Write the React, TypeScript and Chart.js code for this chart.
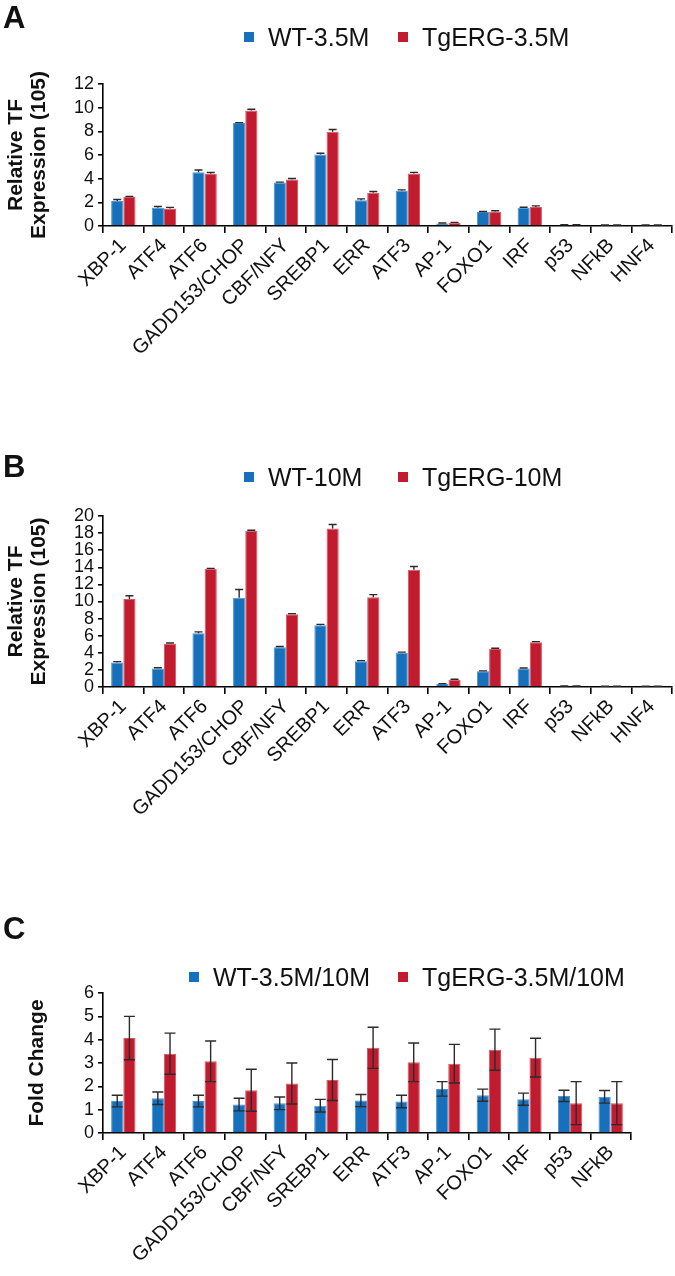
import React, { useEffect, useRef } from 'react';
import { Chart, registerables } from 'chart.js';

Chart.register(...registerables);

const FONT = '"Liberation Sans", Arial, Helvetica, sans-serif';
const NARROW = '"Liberation Sans Narrow", "Arial Narrow", "Liberation Sans", Arial, sans-serif';
const BLUE = '#1670bc';
const RED = '#c01b2e';

// transcription factors on the x axis
const factors = ['XBP-1', 'ATF4', 'ATF6', 'GADD153/CHOP', 'CBF/NFY', 'SREBP1', 'ERR', 'ATF3', 'AP-1', 'FOXO1', 'IRF', 'p53', 'NFkB', 'HNF4'];
const factorsC = ['XBP-1', 'ATF4', 'ATF6', 'GADD153/CHOP', 'CBF/NFY', 'SREBP1', 'ERR', 'ATF3', 'AP-1', 'FOXO1', 'IRF', 'p53', 'NFkB'];

// A: 3.5 months
const wt35 = [2.12, 1.55, 4.55, 8.7, 3.67, 6.05, 2.17, 2.97, 0.22, 1.18, 1.55, 0.1, 0.08, 0.08];
const wt35Err = [0.12, 0.1, 0.18, 0.04, 0.04, 0.1, 0.12, 0.08, 0.03, 0.04, 0.04, 0.01, 0.01, 0.01];
const tg35 = [2.45, 1.47, 4.42, 9.77, 3.92, 7.97, 2.8, 4.43, 0.28, 1.21, 1.6, 0.1, 0.08, 0.08];
const tg35Err = [0.05, 0.1, 0.1, 0.1, 0.1, 0.18, 0.12, 0.1, 0.03, 0.08, 0.1, 0.01, 0.01, 0.01];

// B: 10 months
const wt10 = [2.87, 2.17, 6.3, 10.45, 4.65, 7.22, 3.0, 4.0, 0.35, 1.83, 2.17, 0.1, 0.08, 0.08];
const wt10Err = [0.1, 0.08, 0.15, 0.95, 0.08, 0.1, 0.08, 0.08, 0.05, 0.06, 0.06, 0.01, 0.01, 0.01];
const tg10 = [10.28, 5.05, 13.82, 18.27, 8.5, 18.55, 10.5, 13.72, 0.85, 4.45, 5.23, 0.1, 0.08, 0.08];
const tg10Err = [0.4, 0.1, 0.06, 0.06, 0.08, 0.45, 0.3, 0.38, 0.05, 0.08, 0.08, 0.01, 0.01, 0.01];

// C: fold change 3.5M -> 10M
const wtFold = [1.37, 1.49, 1.37, 1.22, 1.27, 1.17, 1.39, 1.35, 1.89, 1.62, 1.45, 1.59, 1.55];
const wtFoldErr = [0.25, 0.27, 0.25, 0.27, 0.27, 0.27, 0.26, 0.27, 0.31, 0.26, 0.26, 0.24, 0.27];
const tgFold = [4.07, 3.4, 3.07, 1.83, 2.12, 2.27, 3.65, 3.03, 2.97, 3.57, 3.23, 1.28, 1.28];
const tgFoldErr = [0.93, 0.88, 0.87, 0.9, 0.88, 0.88, 0.88, 0.83, 0.83, 0.88, 0.83, 0.92, 0.92];

const errorBars = {
  id: 'errorBars',
  afterDatasetsDraw(chart: any, _args: any, opts: any) {
    const { ctx } = chart;
    const y = chart.scales.y;
    ctx.save();
    ctx.strokeStyle = '#2b2b2b';
    ctx.lineWidth = 1.4;
    chart.data.datasets.forEach((ds: any, i: number) => {
      const meta = chart.getDatasetMeta(i);
      const errs: number[] = ds.errors || [];
      meta.data.forEach((bar: any, j: number) => {
        const v = ds.data[j];
        const e = errs[j];
        if (!e) return;
        const top = y.getPixelForValue(v + e);
        const bot = y.getPixelForValue(opts.both ? v - e : v);
        const c = opts.cap / 2;
        ctx.beginPath();
        ctx.moveTo(bar.x, top); ctx.lineTo(bar.x, bot);
        ctx.moveTo(bar.x - c, top); ctx.lineTo(bar.x + c, top);
        if (opts.both) { ctx.moveTo(bar.x - c, bot); ctx.lineTo(bar.x + c, bot); }
        ctx.stroke();
      });
    });
    ctx.restore();
  },
};

interface PanelProps {
  top: number; height: number;
  plotTop: number; plotBottom: number; plotLeft: number; plotRight: number;
  labels: string[];
  wt: number[]; wtErr: number[]; tg: number[]; tgErr: number[];
  names: [string, string];
  yMax: number; yStep: number;
  yTitle: string | string[]; titlePad: number;
  both: boolean; cap: number;
  letter: string; letterTop: number;
  legendY: number; legendX: [number, number];
}

function Panel(p: PanelProps) {
  const ref = useRef<HTMLCanvasElement>(null);

  useEffect(() => {
    const canvas = ref.current;
    if (!canvas) return;
    const axisLine = { display: true, color: '#000', width: 1.6 };
    const chart = new Chart(canvas, {
      type: 'bar',
      data: {
        labels: p.labels,
        datasets: [
          { label: p.names[0], data: p.wt, backgroundColor: BLUE, borderColor: '#4d95d2', borderWidth: 1, errors: p.wtErr } as any,
          { label: p.names[1], data: p.tg, backgroundColor: RED, borderColor: '#d9555f', borderWidth: 1, errors: p.tgErr } as any,
        ],
      },
      options: {
        animation: false,
        responsive: false,
        maintainAspectRatio: false,
        datasets: { bar: { categoryPercentage: 0.6, barPercentage: 1.0 } },
        layout: { padding: { top: p.plotTop - p.top, right: 675 - p.plotRight, left: 0, bottom: 0 } },
        plugins: {
          legend: { display: false },
          tooltip: { enabled: false },
          // @ts-expect-error custom plugin options
          errorBars: { both: p.both, cap: p.cap },
        },
        scales: {
          x: {
            offset: true,
            border: axisLine,
            grid: { display: true, drawOnChartArea: false, drawTicks: true, tickLength: 7, offset: true, color: '#000', lineWidth: 1.6 },
            ticks: { autoSkip: false, minRotation: 45, maxRotation: 45, padding: 1, color: '#111', font: { family: FONT, size: 20 } },
            afterFit: (s: any) => { s.height = p.top + p.height - p.plotBottom; },
          },
          y: {
            min: 0,
            max: p.yMax,
            border: axisLine,
            grid: { drawOnChartArea: false, drawTicks: true, tickLength: 5, color: '#000', lineWidth: 1.6 },
            ticks: { stepSize: p.yStep, autoSkip: false, padding: 4, color: '#111', font: { family: NARROW, size: 18 } },
            title: {
              display: true,
              text: p.yTitle,
              color: '#111',
              padding: { top: p.titlePad, bottom: 0 },
              font: { family: FONT, size: 21, weight: 'bold', lineHeight: 1.12 },
            },
            afterFit: (s: any) => { s.width = p.plotLeft; },
          },
        },
      },
      plugins: [errorBars],
    });
    return () => { chart.destroy(); };
  }, [p]);

  const colors = [BLUE, RED];
  return (
    <div style={{ position: 'absolute', left: 0, top: p.top, width: 675, height: p.height }}>
      <canvas ref={ref} width={675} height={p.height} style={{ display: 'block', width: 675, height: p.height }} />
      <div style={{ position: 'absolute', left: 3, top: p.letterTop - p.top, fontSize: 31, fontWeight: 'bold', lineHeight: '31px', color: '#111' }}>{p.letter}</div>
      {p.names.map((n, i) => (
        <React.Fragment key={n}>
          <div style={{ position: 'absolute', left: p.legendX[i], top: p.legendY - p.top - 5, width: 10, height: 10, background: colors[i] }} />
          <div style={{ position: 'absolute', left: p.legendX[i] + 24, top: p.legendY - p.top - 12, fontSize: 25, lineHeight: '25px', color: '#111', whiteSpace: 'nowrap' }}>{n}</div>
        </React.Fragment>
      ))}
    </div>
  );
}

const panelA: PanelProps = {
  top: 0, height: 380, plotTop: 84, plotBottom: 226, plotLeft: 103, plotRight: 672,
  labels: factors, wt: wt35, wtErr: wt35Err, tg: tg35, tgErr: tg35Err,
  names: ['WT-3.5M', 'TgERG-3.5M'], yMax: 12, yStep: 2,
  yTitle: ['Relative TF', 'Expression (105)'], titlePad: 4, both: false, cap: 8,
  letter: 'A', letterTop: 2, legendY: 37, legendX: [244, 398],
};

const panelB: PanelProps = {
  top: 400, height: 470, plotTop: 516, plotBottom: 687, plotLeft: 103, plotRight: 672,
  labels: factors, wt: wt10, wtErr: wt10Err, tg: tg10, tgErr: tg10Err,
  names: ['WT-10M', 'TgERG-10M'], yMax: 20, yStep: 2,
  yTitle: ['Relative TF', 'Expression (105)'], titlePad: 4, both: false, cap: 8,
  letter: 'B', letterTop: 451, legendY: 477, legendX: [244, 398],
};

const panelC: PanelProps = {
  top: 880, height: 396, plotTop: 993, plotBottom: 1133, plotLeft: 103, plotRight: 631,
  labels: factorsC, wt: wtFold, wtErr: wtFoldErr, tg: tgFold, tgErr: tgFoldErr,
  names: ['WT-3.5M/10M', 'TgERG-3.5M/10M'], yMax: 6, yStep: 1,
  yTitle: 'Fold Change', titlePad: 25, both: true, cap: 11,
  letter: 'C', letterTop: 913, legendY: 977, legendX: [189, 398],
};

export default function App() {
  return (
    <div style={{ position: 'absolute', left: 0, top: 0, width: 675, height: 1276, background: '#fff', fontFamily: FONT, overflow: 'hidden' }}>
      <Panel {...panelA} />
      <Panel {...panelB} />
      <Panel {...panelC} />
    </div>
  );
}
